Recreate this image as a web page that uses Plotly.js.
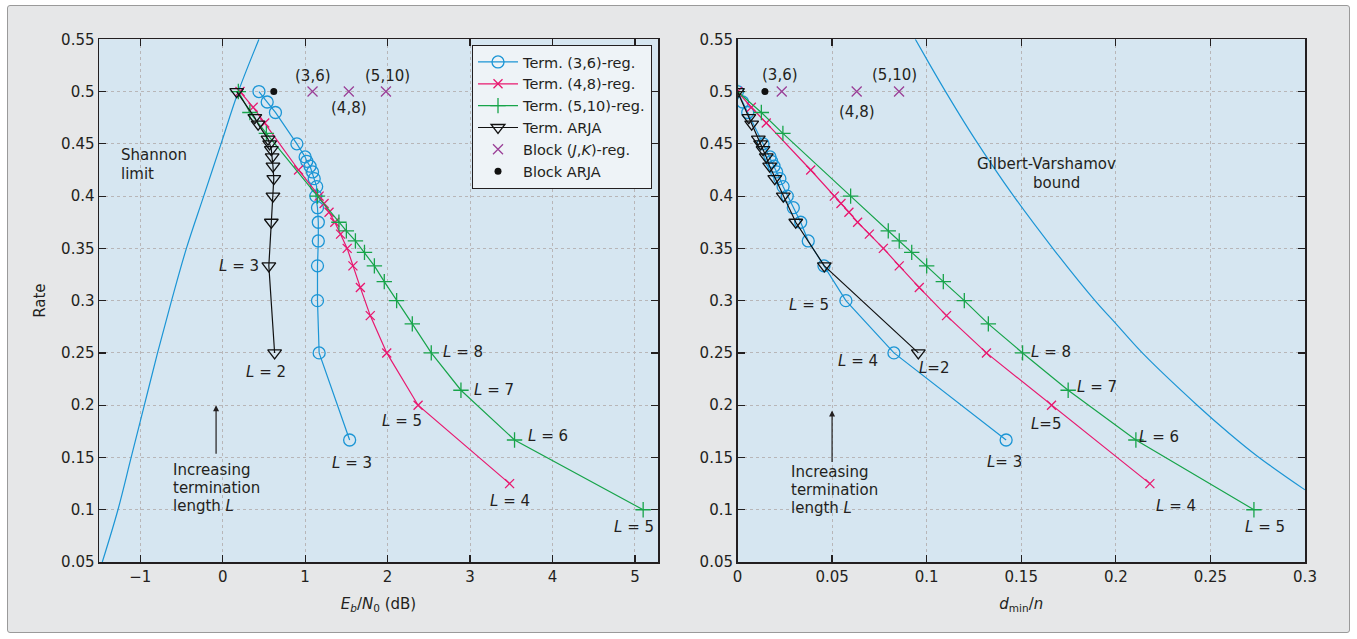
<!DOCTYPE html>
<html>
<head>
<meta charset="utf-8">
<script src="https://cdn.plot.ly/plotly-3.0.1.min.js"></script>
<style>
  html, body { margin:0; padding:0; background:#ffffff; }
  #frame { position:absolute; left:7px; top:5px; width:1341px; height:626px; border:1px solid #9a9a9a; background:#e6e7e8; border-radius:3px; }
  #chart { position:absolute; left:0; top:0; width:1357px; height:639px; }
</style>
</head>
<body>
<div id="frame"></div>
<div id="chart"></div>
<script>
// ---------- data ----------
// Shannon limit (BPSK-AWGN), left panel
const shannonEb   = [-1.46, -1.27, -1.11, -0.95, -0.79, -0.62, -0.44, -0.23, -0.02, 0.19, 0.44];
const shannonRate = [0.05, 0.10, 0.15, 0.20, 0.25, 0.30, 0.35, 0.40, 0.45, 0.50, 0.55];

// Terminated (3,6)-regular LDPC-CC, L = 3..16, 20, 50, 100, large
const rate36  = [0.1667, 0.25, 0.30, 0.3333, 0.3571, 0.375, 0.3889, 0.40, 0.4091, 0.4167, 0.4231, 0.4286, 0.4333, 0.4375, 0.45, 0.48, 0.49, 0.50];
const eb36    = [1.54, 1.17, 1.15, 1.15, 1.16, 1.16, 1.15, 1.13, 1.14, 1.11, 1.09, 1.06, 1.02, 1.00, 0.90, 0.64, 0.54, 0.44];
const dmin36  = [0.142, 0.0827, 0.0573, 0.0457, 0.0374, 0.0334, 0.0295, 0.0263, 0.0241, 0.0224, 0.0207, 0.0193, 0.0180, 0.0172, 0.0135, 0.0054, 0.0027, 0.0];

// Terminated (4,8)-regular, L = 4..15, 20, 50, 100, large
const rate48  = [0.125, 0.20, 0.25, 0.2857, 0.3125, 0.3333, 0.35, 0.3636, 0.375, 0.3846, 0.3929, 0.40, 0.425, 0.47, 0.485, 0.50];
const eb48    = [3.48, 2.37, 1.99, 1.79, 1.67, 1.58, 1.51, 1.43, 1.36, 1.29, 1.23, 1.17, 0.92, 0.51, 0.37, 0.21];
const dmin48  = [0.218, 0.166, 0.1316, 0.1105, 0.0961, 0.0855, 0.0771, 0.0697, 0.0635, 0.0589, 0.0547, 0.0512, 0.0387, 0.0152, 0.0073, 0.0];

// Terminated (5,10)-regular, left: L = 5..16, 20, 50, 100, large
const rate510  = [0.10, 0.1667, 0.2143, 0.25, 0.2778, 0.30, 0.3182, 0.3333, 0.3462, 0.3571, 0.3667, 0.375, 0.40, 0.46, 0.48, 0.50];
const eb510    = [5.10, 3.54, 2.89, 2.53, 2.30, 2.11, 1.96, 1.84, 1.72, 1.61, 1.50, 1.41, 1.15, 0.53, 0.33, 0.19];
// right: L = 5..15, 20, 50, 100, large
const rate510R = [0.10, 0.1667, 0.2143, 0.25, 0.2778, 0.30, 0.3182, 0.3333, 0.3462, 0.3571, 0.3667, 0.40, 0.46, 0.48, 0.50];
const dmin510  = [0.273, 0.2106, 0.1748, 0.1507, 0.1326, 0.1199, 0.1088, 0.100, 0.0921, 0.0855, 0.0797, 0.0598, 0.024, 0.0126, 0.0];

// Terminated ARJA, L = 2..11, 16, 20, large
const rateArja = [0.25, 0.3333, 0.375, 0.40, 0.4167, 0.4286, 0.4375, 0.4444, 0.45, 0.4545, 0.4688, 0.475, 0.50];
const ebArja   = [0.63, 0.56, 0.59, 0.61, 0.62, 0.61, 0.60, 0.59, 0.57, 0.55, 0.43, 0.39, 0.17];
const dminArja = [0.0956, 0.0459, 0.0308, 0.0242, 0.0197, 0.0170, 0.0152, 0.0135, 0.0122, 0.0110, 0.0075, 0.0060, 0.0];

// Block codes
const blockLabels  = ['(3,6)', '(4,8)', '(5,10)'];
const blockRegRate = [0.5, 0.5, 0.5];
const blockRegEb   = [1.09, 1.53, 1.98];
const blockRegDmin = [0.0234, 0.0630, 0.0854];
const blockArjaRate = [0.5];
const blockArjaEb   = [0.62];
const blockArjaDmin = [0.0145];

// Gilbert-Varshamov bound, right panel
const gvDmin = [0.094, 0.100, 0.110, 0.125, 0.146, 0.168, 0.189, 0.200, 0.214, 0.243, 0.260, 0.275, 0.300];
const gvRate = [0.55, 0.531, 0.50, 0.456, 0.40, 0.347, 0.30, 0.278, 0.25, 0.20, 0.173, 0.151, 0.119];

// ---------- styling ----------
const F = 'DejaVu Sans, sans-serif';
const FS = 15;
const TXT = '#231f20';
const BLUE = '#1b95d5', PINK = '#e8186f', GREEN = '#17a44a', BLACK = '#111111', PURPLE = '#9a3f97';
const LW = 1.2;

function lineTrace(x, y, color, symbol, size, name, axes, showlegend) {
  return {
    x: x, y: y, type: 'scatter', mode: 'lines+markers', name: name,
    xaxis: axes[0], yaxis: axes[1], showlegend: showlegend,
    line: { color: color, width: LW },
    marker: { symbol: symbol, size: size, color: color, line: { color: color, width: 1.3 } }
  };
}

const L = ['x', 'y'], R = ['x2', 'y2'];
const traces = [
  { x: shannonEb, y: shannonRate, type: 'scatter', mode: 'lines', xaxis: 'x', yaxis: 'y', showlegend: false,
    line: { color: BLUE, width: LW, shape: 'spline' }, name: 'Shannon limit' },
  lineTrace(eb36, rate36, BLUE, 'circle-open', 12, 'Term. (3,6)-reg.', L, true),
  lineTrace(eb48, rate48, PINK, 'x-thin-open', 9, 'Term. (4,8)-reg.', L, true),
  lineTrace(eb510, rate510, GREEN, 'cross-thin-open', 11, 'Term. (5,10)-reg.', L, true),
  lineTrace(ebArja, rateArja, BLACK, 'triangle-down-open', 12, 'Term. ARJA', L, true),
  { x: blockRegEb, y: blockRegRate, type: 'scatter', mode: 'markers', name: 'Block (<i>J</i>,<i>K</i>)-reg.',
    xaxis: 'x', yaxis: 'y', marker: { symbol: 'x-thin-open', size: 10, color: PURPLE, line: { color: PURPLE, width: 1.3 } } },
  { x: blockArjaEb, y: blockArjaRate, type: 'scatter', mode: 'markers', name: 'Block ARJA',
    xaxis: 'x', yaxis: 'y', marker: { symbol: 'circle', size: 7, color: BLACK } },

  { x: gvDmin, y: gvRate, type: 'scatter', mode: 'lines', xaxis: 'x2', yaxis: 'y2', showlegend: false,
    line: { color: BLUE, width: LW, shape: 'spline' }, name: 'Gilbert-Varshamov bound' },
  lineTrace(dmin36, rate36, BLUE, 'circle-open', 12, 'Term. (3,6)-reg.', R, false),
  lineTrace(dmin48, rate48, PINK, 'x-thin-open', 9, 'Term. (4,8)-reg.', R, false),
  lineTrace(dmin510, rate510R, GREEN, 'cross-thin-open', 11, 'Term. (5,10)-reg.', R, false),
  lineTrace(dminArja, rateArja, BLACK, 'triangle-down-open', 12, 'Term. ARJA', R, false),
  { x: blockRegDmin, y: blockRegRate, type: 'scatter', mode: 'markers', showlegend: false,
    xaxis: 'x2', yaxis: 'y2', marker: { symbol: 'x-thin-open', size: 10, color: PURPLE, line: { color: PURPLE, width: 1.3 } } },
  { x: blockArjaDmin, y: blockArjaRate, type: 'scatter', mode: 'markers', showlegend: false,
    xaxis: 'x2', yaxis: 'y2', marker: { symbol: 'circle', size: 7, color: BLACK } }
];

const W = 1357, H = 639;
const yDom = [(H - 562) / H, (H - 39.3) / H];

function axisCommon() {
  return {
    showline: true, linecolor: TXT, linewidth: 1.5, mirror: 'ticks',
    ticks: 'inside', ticklen: 7, tickwidth: 1.2, tickcolor: TXT,
    showgrid: true, gridcolor: '#b8b6b8', gridwidth: 1, griddash: 'dot',
    zeroline: false, automargin: false,
    tickfont: { family: F, size: FS, color: TXT }
  };
}

const xaxis = Object.assign(axisCommon(), {
  domain: [99 / W, 658 / W], range: [-1.5, 5.28], dtick: 1, tick0: 0, anchor: 'y',
  title: { text: '<i>E<sub>b</sub></i>/<i>N</i><sub>0</sub> (dB)', font: { family: F, size: FS, color: TXT }, standoff: 14 }
});
const yaxis = Object.assign(axisCommon(), {
  domain: yDom, range: [0.05, 0.55], dtick: 0.05, tick0: 0.05, anchor: 'x',
  title: { text: 'Rate', font: { family: F, size: FS, color: TXT }, standoff: 12 }
});
const xaxis2 = Object.assign(axisCommon(), {
  domain: [737.5 / W, 1305 / W], range: [0, 0.3], dtick: 0.05, tick0: 0, anchor: 'y2',
  title: { text: '<i>d</i><sub>min</sub>/<i>n</i>', font: { family: F, size: FS, color: TXT }, standoff: 14 }
});
const yaxis2 = Object.assign(axisCommon(), {
  domain: yDom, range: [0.05, 0.55], dtick: 0.05, tick0: 0.05, anchor: 'x2'
});

function note(x, y, text, ax, extra) {
  return Object.assign({
    x: x, y: y, xref: ax[0], yref: ax[1], text: text, showarrow: false,
    font: { family: F, size: FS, color: TXT }, xanchor: 'center', yanchor: 'middle'
  }, extra || {});
}
const LEFTA = { xanchor: 'left' };
const Li = '<i>L</i>';
const annotations = [
  // left panel
  note(1.10, 0.515, blockLabels[0], L),
  note(1.53, 0.484, blockLabels[1], L),
  note(2.00, 0.515, blockLabels[2], L),
  note(-1.253, 0.4392, 'Shannon', L, LEFTA),
  note(-1.253, 0.4211, 'limit', L, LEFTA),
  note(0.20, 0.333, Li + ' = 3', L),
  note(0.53, 0.232, Li + ' = 2', L),
  note(1.57, 0.1445, Li + ' = 3', L),
  note(2.17, 0.185, Li + ' = 5', L),
  note(3.48, 0.108, Li + ' = 4', L),
  note(2.92, 0.251, Li + ' = 8', L),
  note(3.29, 0.215, Li + ' = 7', L),
  note(3.94, 0.171, Li + ' = 6', L),
  note(4.99, 0.0834, Li + ' = 5', L),
  note(-0.623, 0.1377, 'Increasing', L, LEFTA),
  note(-0.623, 0.1205, 'termination', L, LEFTA),
  note(-0.623, 0.1032, 'length ' + Li, L, LEFTA),
  { x: -0.08, y: 0.20, xref: 'x', yref: 'y', text: '', showarrow: true, ax: 0, ay: 50,
    arrowhead: 2, arrowsize: 1, arrowwidth: 1.2, arrowcolor: TXT },
  // right panel
  note(0.0223, 0.516, blockLabels[0], R),
  note(0.0829, 0.516, blockLabels[2], R),
  note(0.0630, 0.480, blockLabels[1], R),
  note(0.1634, 0.4305, 'Gilbert-Varshamov', R),
  note(0.1687, 0.4126, 'bound', R),
  note(0.038, 0.296, Li + ' = 5', R),
  note(0.0638, 0.242, Li + ' = 4', R),
  note(0.104, 0.2356, Li + '=2', R),
  note(0.1414, 0.1455, Li + '= 3', R),
  note(0.1656, 0.251, Li + ' = 8', R),
  note(0.190, 0.217, Li + ' = 7', R),
  note(0.2227, 0.170, Li + ' = 6', R),
  note(0.163, 0.182, Li + '=5', R),
  note(0.232, 0.104, Li + ' = 4', R),
  note(0.279, 0.0834, Li + ' = 5', R),
  note(0.0271, 0.1358, 'Increasing', R, LEFTA),
  note(0.0271, 0.1187, 'termination', R, LEFTA),
  note(0.0271, 0.1016, 'length ' + Li, R, LEFTA),
  { x: 0.05, y: 0.195, xref: 'x2', yref: 'y2', text: '', showarrow: true, ax: 0, ay: 53,
    arrowhead: 2, arrowsize: 1, arrowwidth: 1.2, arrowcolor: TXT }
];

const layout = {
  width: W, height: H,
  margin: { l: 0, r: 0, t: 0, b: 0 },
  paper_bgcolor: 'rgba(0,0,0,0)',
  plot_bgcolor: '#d6e6f1',
  font: { family: F, size: FS, color: TXT },
  xaxis: xaxis, yaxis: yaxis, xaxis2: xaxis2, yaxis2: yaxis2,
  showlegend: true,
  legend: {
    x: 652 / W, y: (H - 45) / H, xanchor: 'right', yanchor: 'top',
    bgcolor: '#eef3f7', bordercolor: TXT, borderwidth: 1,
    font: { family: F, size: 14.5, color: TXT },
    tracegroupgap: 0, itemwidth: 40
  },
  annotations: annotations,
  hovermode: false
};

Plotly.newPlot('chart', traces, layout, { staticPlot: true, displayModeBar: false });
</script>
</body>
</html>
